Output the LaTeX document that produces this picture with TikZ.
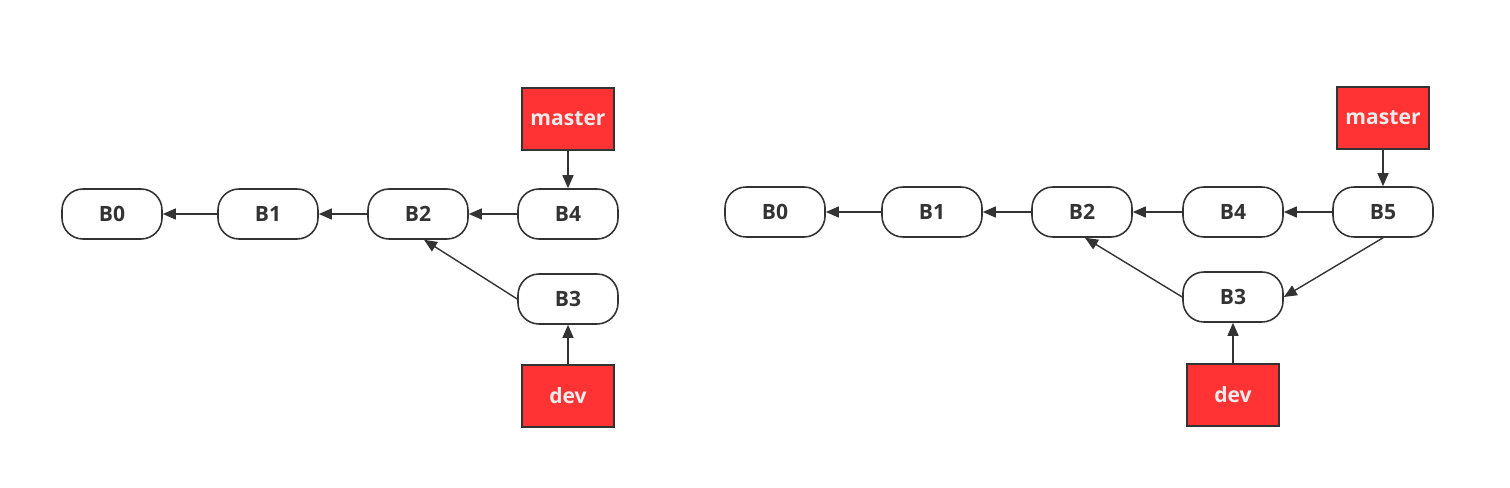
\documentclass[tikz,border=0pt]{standalone}
\usepackage{fontspec}
\setmainfont{Open Sans}
\usetikzlibrary{shapes,arrows.meta,positioning}
\usepackage{xcolor}
\definecolor{branchred}{HTML}{FF3333}
\definecolor{inkgray}{HTML}{333333}

\begin{document}
\begin{tikzpicture}
      \tikzstyle{commit} = [rectangle, rounded corners=0.42cm, draw=inkgray, line width=0.9pt, fill=white, text=inkgray, minimum width=2cm, minimum height=1cm, font=\fontsize{12}{14}\selectfont\bfseries]
      \tikzstyle{branch} = [rectangle, draw=inkgray, line width=0.9pt, fill=branchred, text=white!92!black, minimum width=1.84cm, minimum height=1.24cm, font=\fontsize{12}{14}\selectfont\bfseries]
      \tikzstyle{link} = [-{Triangle[length=2.6mm, width=2.2mm]}, draw=inkgray, line width=0.8pt]

      \useasboundingbox (0,0) rectangle (30.2,-9.76);

      % before the merge
      \node[commit] (a0) at (2.24,-4.28) {B0};
      \node[commit] (a1) at (5.36,-4.28) {B1};
      \node[commit] (a2) at (8.36,-4.28) {B2};
      \node[commit] (a4) at (11.36,-4.28) {B4};
      \node[commit] (a3) at (11.36,-5.98) {B3};
      \node[branch] (amaster) at (11.36,-2.38) {master};
      \node[branch] (adev) at (11.36,-7.92) {dev};

      \draw[link] (a1) -- (a0);
      \draw[link] (a2) -- (a1);
      \draw[link] (a4) -- (a2);
      \draw[link] (a3.west) -- ([xshift=0.12cm]a2.south);
      \draw[link] (amaster) -- (a4);
      \draw[link] (adev) -- (a3);

      % after the merge
      \node[commit] (b0) at (15.5,-4.24) {B0};
      \node[commit] (b1) at (18.64,-4.24) {B1};
      \node[commit] (b2) at (21.64,-4.24) {B2};
      \node[commit] (b4) at (24.66,-4.24) {B4};
      \node[commit] (b5) at (27.66,-4.24) {B5};
      \node[commit] (b3) at (24.66,-5.94) {B3};
      \node[branch] (bmaster) at (27.66,-2.36) {master};
      \node[branch] (bdev) at (24.66,-7.9) {dev};

      \draw[link] (b1) -- (b0);
      \draw[link] (b2) -- (b1);
      \draw[link] (b4) -- (b2);
      \draw[link] (b5) -- (b4);
      \draw[link] (b3.west) -- ([xshift=0.06cm]b2.south);
      \draw[link] (b5.south) -- (b3.east);
      \draw[link] (bmaster) -- (b5);
      \draw[link] (bdev) -- (b3);
    \end{tikzpicture}
\end{document}
